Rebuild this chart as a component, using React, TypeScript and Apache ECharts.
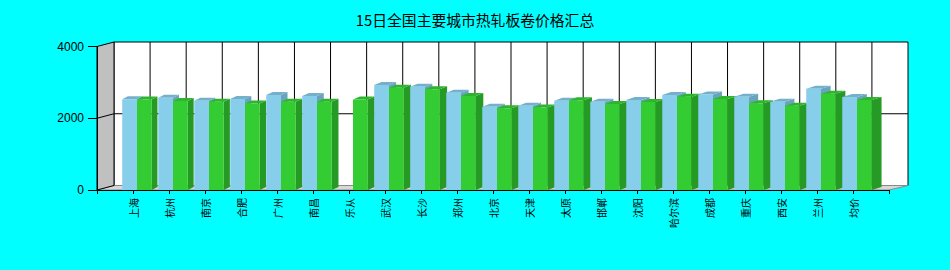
import React, { useEffect, useRef } from "react";
import * as echarts from "echarts";

const titleText = "15日全国主要城市热轧板卷价格汇总";
const cities = [
  "上海", "杭州", "南京", "合肥", "广州", "南昌", "乐从", "武汉", "长沙", "郑州",
  "北京", "天津", "太原", "邯郸", "沈阳", "哈尔滨", "成都", "重庆", "西安", "兰州", "均价",
];
const seriesA: (number | null)[] = [
  2530, 2570, 2490, 2540, 2650, 2620, null, 2930, 2880, 2710,
  2320, 2350, 2490, 2460, 2510, 2650, 2660, 2600, 2460, 2820, 2590,
];
const seriesB: number[] = [
  2520, 2480, 2460, 2410, 2460, 2460, 2520, 2850, 2810, 2620,
  2280, 2300, 2500, 2400, 2450, 2600, 2540, 2420, 2350, 2680, 2510,
];
const yTicks = { min: 0, max: 4000, interval: 2000 };

// category axis: empty slot at each end so labels sit on ticks
const axisCats = ["", ...cities, ""];

export default function App() {
  const ref = useRef<HTMLDivElement>(null);
  useEffect(() => {
    if (!ref.current) return;
    const chart = echarts.init(ref.current, null, { renderer: "svg" });

    const backDx = (x: number, x0: number, w: number) => 17 + (2 * (x - x0)) / w;
    const backDy = 4.5;

    const wallsRender = (params: any, api: any) => {
      const cs = params.coordSys;
      const x0 = cs.x;
      const x1 = cs.x + cs.width;
      const yT = api.coord([0, yTicks.max])[1];
      const yB = api.coord([0, yTicks.min])[1];
      const dl = backDx(x0, x0, cs.width);
      const dr = backDx(x1, x0, cs.width);
      const children: any[] = [];
      children.push({
        type: "polygon",
        shape: { points: [[x0 + dl, yT - backDy], [x1 + dr, yT - backDy], [x1 + dr, yB - backDy], [x0 + dl, yB - backDy]] },
        style: { fill: "#ffffff", stroke: "#000000", lineWidth: 1 },
      });
      children.push({
        type: "polygon",
        shape: { points: [[x0, yB], [x1, yB], [x1 + dr, yB - backDy], [x0 + dl, yB - backDy]] },
        style: { fill: "#d8d8d8", stroke: "#8a8a8a", lineWidth: 1 },
      });
      children.push({
        type: "polygon",
        shape: { points: [[x0, yT], [x0 + dl, yT - backDy], [x0 + dl, yB - backDy], [x0, yB]] },
        style: { fill: "#c0c0c0", stroke: "#000000", lineWidth: 1 },
      });
      for (let v = yTicks.min + yTicks.interval; v < yTicks.max; v += yTicks.interval) {
        const y = api.coord([0, v])[1];
        children.push({
          type: "polyline",
          shape: { points: [[x0, y], [x0 + dl, y - backDy], [x1 + dr, y - backDy]] },
          style: { stroke: "#000000", lineWidth: 1, fill: null },
        });
      }
      for (let k = 1; k < axisCats.length - 1; k++) {
        const x = api.coord([k, 0])[0];
        const xd = x + backDx(x, x0, cs.width);
        children.push({
          type: "line",
          shape: { x1: xd, y1: yT - backDy, x2: xd, y2: yB - backDy },
          style: { stroke: "#000000", lineWidth: 1 },
        });
      }
      return { type: "group", children };
    };

    const barsRender = (params: any, api: any) => {
      const cs = params.coordSys;
      const idx = api.value(0);
      const base = api.coord([idx, 0]);
      const band = api.size([1, 0])[0];
      const w = band * 0.41;
      const cx = base[0] + 4;
      const t = (base[0] - cs.x) / cs.width;
      const dx = 5.5 + 4.5 * t;
      const dy = 3;
      const yb = base[1];
      const children: any[] = [];
      const bar = (xl: number, v: number, front: string, top: string, side: string) => {
        if (v == null || isNaN(v)) return;
        const yt = api.coord([idx, v])[1];
        children.push({
          type: "polygon",
          shape: { points: [[xl + w, yt], [xl + w + dx, yt - dy], [xl + w + dx, yb - dy], [xl + w, yb]] },
          style: { fill: side },
        });
        children.push({
          type: "polygon",
          shape: { points: [[xl, yt], [xl + w, yt], [xl + w + dx, yt - dy], [xl + dx, yt - dy]] },
          style: { fill: top },
        });
        children.push({
          type: "rect",
          shape: { x: xl, y: yt, width: w, height: yb - yt },
          style: { fill: front },
        });
      };
      bar(cx - w, api.value(1), "#87ceeb", "#74b0cc", "#6aa3bd");
      bar(cx, api.value(2), "#33cc33", "#2db52d", "#259a25");
      return { type: "group", children };
    };

    const barData = cities.map((_, i) => [
      i + 1,
      seriesA[i] == null ? "-" : seriesA[i],
      seriesB[i],
    ]);

    chart.setOption({
      animation: false,
      backgroundColor: "#00ffff",
      title: {
        text: titleText,
        left: "center",
        top: 7,
        textStyle: {
          fontSize: 14.8,
          fontWeight: "normal",
          color: "#000000",
          fontFamily: "Noto Sans CJK SC",
        },
      },
      grid: { left: 97, right: 61, top: 46.5, bottom: 80 },
      xAxis: {
        type: "category",
        data: axisCats,
        boundaryGap: false,
        z: 10,
        axisLine: { show: true, lineStyle: { color: "#000000", width: 1 } },
        axisTick: { show: true, interval: 0, length: 4, lineStyle: { color: "#000000" } },
        axisLabel: {
          interval: 0,
          rotate: 90,
          margin: 8,
          fontSize: 10,
          color: "#000000",
          fontFamily: "Noto Sans CJK SC",
        },
        splitLine: { show: false },
      },
      yAxis: {
        type: "value",
        min: yTicks.min,
        max: yTicks.max,
        interval: yTicks.interval,
        z: 10,
        axisLine: { show: true, lineStyle: { color: "#000000", width: 1 } },
        axisTick: { show: true, length: 9, lineStyle: { color: "#000000" } },
        axisLabel: {
          margin: 13,
          fontSize: 12,
          color: "#000000",
          fontFamily: "Liberation Sans",
          formatter: (v: number) => String(v),
        },
        splitLine: { show: false },
      },
      series: [
        {
          type: "custom",
          z: 1,
          clip: false,
          silent: true,
          data: [[0, 0]],
          encode: { x: 0, y: 1 },
          renderItem: wallsRender,
        },
        {
          type: "custom",
          z: 2,
          clip: false,
          data: barData,
          encode: { x: 0, y: [1, 2] },
          renderItem: barsRender,
        },
      ],
    });
    return () => chart.dispose();
  }, []);

  return (
    <div
      ref={ref}
      style={{ position: "fixed", left: 0, top: 0, width: 950, height: 270 }}
    />
  );
}
